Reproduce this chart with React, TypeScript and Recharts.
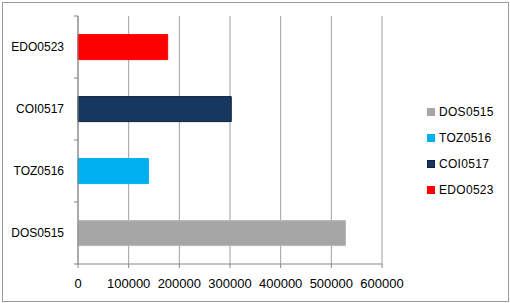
import { BarChart, Bar, XAxis, YAxis, CartesianGrid } from "recharts";

const categories = ["DOS0515", "TOZ0516", "COI0517", "EDO0523"];
const values = [528000, 139000, 302500, 177000];
const colors = ["#a6a6a6", "#00b0f0", "#17375e", "#ff0000"];
const xTicks = [0, 100000, 200000, 300000, 400000, 500000, 600000];

const CHART_W = 510;
const CHART_H = 303;
const MARGIN = { top: 16, right: 128, left: 0, bottom: 0 };
const X_AXIS_H = 39;
const PLOT_H = CHART_H - MARGIN.top - MARGIN.bottom - X_AXIS_H;
const HALF_BAND = PLOT_H / categories.length / 2;
const FONT = "'Liberation Sans', Arial, sans-serif";

// one row per category, each series only has a value in its own row
const data = categories.map((name, i) => {
  const row: Record<string, string | number> = { name };
  categories.forEach((s, j) => {
    row[s] = i === j ? values[i] : 0;
  });
  return row;
});

function CategoryTick(props: any) {
  const { x, y, payload, index } = props;
  const axisX = x + 14;
  return (
    <g>
      <text
        x={x}
        y={y}
        dy="0.35em"
        textAnchor="end"
        fontSize={12}
        fontFamily={FONT}
        fill="#000"
      >
        {payload.value}
      </text>
      <line x1={axisX - 4} x2={axisX} y1={y + HALF_BAND} y2={y + HALF_BAND} stroke="#868686" />
      {index === categories.length - 1 && (
        <line x1={axisX - 4} x2={axisX} y1={y - HALF_BAND} y2={y - HALF_BAND} stroke="#868686" />
      )}
    </g>
  );
}

function LegendBox() {
  return (
    <div
      style={{
        position: "absolute",
        left: 427,
        top: 99,
        fontFamily: FONT,
        fontSize: 12,
        color: "#000",
      }}
    >
      {categories.map((c, i) => (
        <div key={c} style={{ height: 26, display: "flex", alignItems: "center" }}>
          <span
            style={{
              width: 8,
              height: 8,
              background: colors[i],
              border: i === 2 ? "1px solid #0c2340" : "none",
              boxSizing: "border-box",
              marginRight: 4,
            }}
          />
          <span style={{ letterSpacing: 0.3 }}>{c}</span>
        </div>
      ))}
    </div>
  );
}

export default function App() {
  return (
    <div
      style={{
        position: "fixed",
        left: 0,
        top: 0,
        width: CHART_W,
        height: CHART_H,
        background: "#fff",
      }}
    >
      <div
        style={{
          position: "absolute",
          left: 2,
          top: 2,
          width: 507,
          height: 300,
          border: "1px solid #9a9a9a",
          boxSizing: "border-box",
        }}
      />
      <BarChart
        width={CHART_W}
        height={CHART_H}
        data={data}
        layout="vertical"
        margin={MARGIN}
        barCategoryGap="30%"
        style={{ position: "absolute", left: 0, top: 0 }}
      >
        <CartesianGrid horizontal={false} stroke="#a0a0a0" />
        <XAxis
          type="number"
          domain={[0, 600000]}
          ticks={xTicks}
          interval={0}
          height={X_AXIS_H}
          axisLine={{ stroke: "#868686" }}
          tickLine={{ stroke: "#868686" }}
          tickSize={4}
          tickMargin={11}
          tick={{ fontSize: 13, fontFamily: FONT, fill: "#000" }}
        />
        <YAxis
          type="category"
          dataKey="name"
          reversed
          width={78}
          axisLine={{ stroke: "#868686" }}
          tickLine={false}
          tickSize={0}
          tickMargin={14}
          tick={<CategoryTick />}
          interval={0}
        />
        {categories.map((c, i) => (
          <Bar
            key={c}
            dataKey={c}
            stackId="a"
            fill={colors[i]}
            stroke={i === 2 ? "#0c2340" : i === 0 ? "#b8b8b8" : colors[i]}
            isAnimationActive={false}
          />
        ))}
      </BarChart>
      <LegendBox />
    </div>
  );
}
